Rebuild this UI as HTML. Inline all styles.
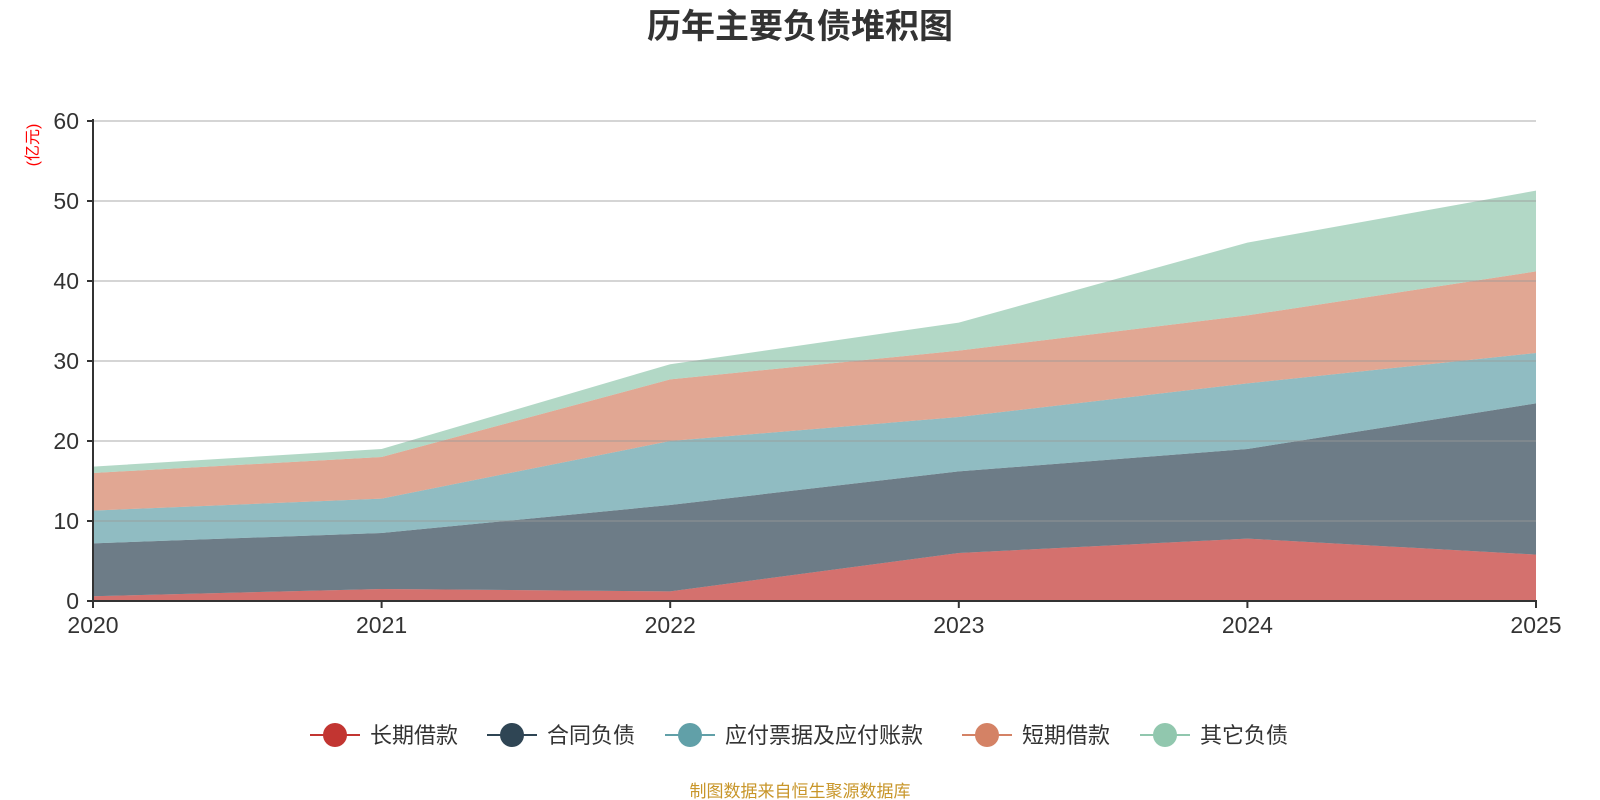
<!DOCTYPE html>
<html><head><meta charset="utf-8"><style>
html,body{margin:0;padding:0;background:#fff;width:1600px;height:800px;overflow:hidden}
svg{display:block;font-family:"Liberation Sans","Noto Sans CJK SC",sans-serif}
</style></head><body>
<svg id="chart" width="1600" height="800">
<text x="800" y="38" text-anchor="middle" font-size="34" font-weight="bold" fill="#333">历年主要负债堆积图</text>
<text transform="translate(38,145) rotate(-90)" text-anchor="middle" font-size="16" fill="#ff0000">(亿元)</text>
<g id="areas"></g><g id="grid"></g><g id="axes"></g><g id="legend"></g>
<text x="800" y="797" text-anchor="middle" font-size="17" fill="#c8962a">制图数据来自恒生聚源数据库</text>
</svg>
<script>
const categories=["2020","2021","2022","2023","2024","2025"];
const seriesNames=["长期借款","合同负债","应付票据及应付账款","短期借款","其它负债"];
const longLoan=[0.6,1.5,1.2,6.0,7.8,5.8];
const contractLiab=[6.6,7.0,10.8,10.2,11.2,18.9];
const payables=[4.1,4.3,8.0,6.8,8.2,6.3];
const shortLoan=[4.7,5.2,7.7,8.3,8.5,10.2];
const otherLiab=[0.8,1.0,1.9,3.5,9.1,10.1];
const yTicks=[0,10,20,30,40,50,60];
const colors=["#c23531","#2f4554","#61a0a8","#d48265","#91c7ae"];
const NS="http://www.w3.org/2000/svg";
const x0=93,x1=1536,y0=601,yTop=121;
const xs=i=>x0+(x1-x0)*i/(categories.length-1);
const ys=v=>y0-(y0-yTop)*v/60;
function mk(t,a,p){const e=document.createElementNS(NS,t);for(const k in a)e.setAttribute(k,a[k]);p.appendChild(e);return e;}
const all=[longLoan,contractLiab,payables,shortLoan,otherLiab];
const areas=document.getElementById('areas');
let base=categories.map(()=>0);
all.forEach((s,si)=>{
  const top=base.map((b,i)=>b+s[i]);
  let d=top.map((v,i)=>(i?'L':'M')+xs(i)+','+ys(v)).join(' ');
  for(let i=categories.length-1;i>=0;i--)d+=' L'+xs(i)+','+ys(base[i]);
  const p=mk('path',{d:d+' Z',fill:colors[si],'fill-opacity':0.7},areas);
  
  
  base=top;
});
const grid=document.getElementById('grid'),axes=document.getElementById('axes');
yTicks.forEach(t=>{
  if(t>0){const l=mk('line',{x1:x0,x2:x1,y1:ys(t),y2:ys(t),stroke:'#999','stroke-opacity':0.55,'stroke-width':1.5},grid);
  
  }
  mk('line',{x1:x0-6,x2:x0,y1:ys(t),y2:ys(t),stroke:'#333','stroke-width':2},axes);
  const tx=mk('text',{x:x0-14,y:ys(t)+8,'text-anchor':'end','font-size':23,fill:'#333'},axes);
  tx.textContent=t;
  
  
});
mk('line',{x1:x0,x2:x0,y1:yTop-2,y2:y0,stroke:'#333','stroke-width':2},axes);
mk('line',{x1:x0,x2:x1+1,y1:y0,y2:y0,stroke:'#333','stroke-width':2},axes);
categories.forEach((c,i)=>{
  mk('line',{x1:xs(i),x2:xs(i),y1:y0,y2:y0+7,stroke:'#333','stroke-width':2},axes);
  const tx=mk('text',{x:xs(i),y:y0+32,'text-anchor':'middle','font-size':23,fill:'#333'},axes);
  tx.textContent=c;
  
  
});
const lg=document.getElementById('legend');
const lx=[310,487,665,962,1140];
seriesNames.forEach((n,i)=>{
  const g=mk('g',{},lg);
  
  
  mk('line',{x1:lx[i],x2:lx[i]+50,y1:735,y2:735,stroke:colors[i],'stroke-width':2},g);
  mk('circle',{cx:lx[i]+25,cy:735,r:12,fill:colors[i]},g);
  const t=mk('text',{x:lx[i]+60,y:743,'font-size':22,fill:'#333'},g);
  t.textContent=n;
});
</script>
</body></html>
